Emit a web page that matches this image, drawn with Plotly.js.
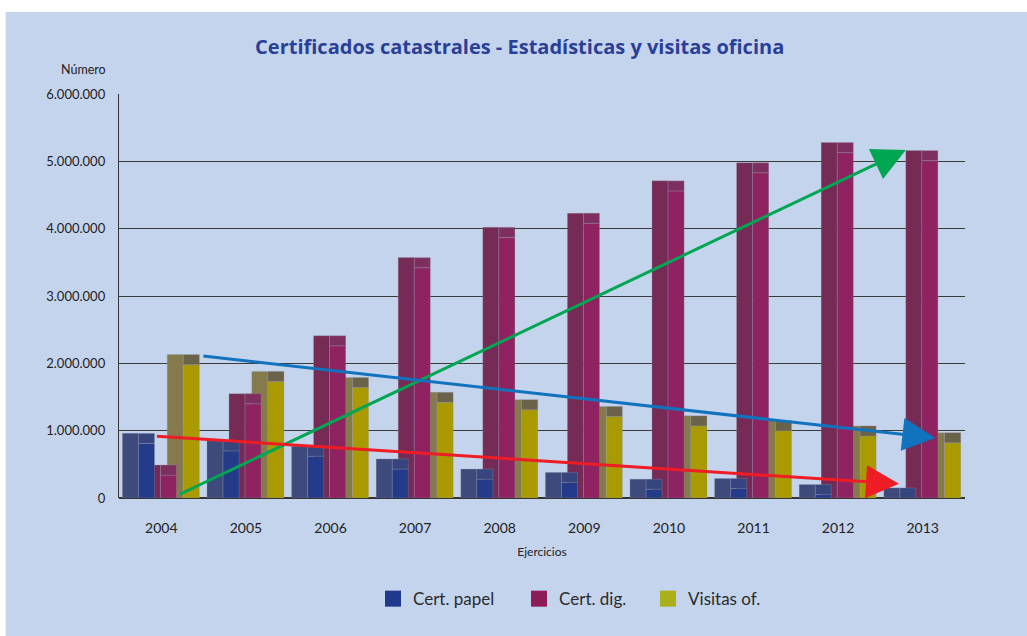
<!DOCTYPE html>
<html>
<head>
<meta charset="utf-8">
<script src="https://cdn.plot.ly/plotly-3.0.1.min.js"></script>
<style>
  html, body { margin: 0; padding: 0; background: #ffffff; }
  #chart { width: 1027px; height: 636px; }
</style>
</head>
<body>
<div id="chart"></div>
<script>
// ---- data ----
const years = [2004, 2005, 2006, 2007, 2008, 2009, 2010, 2011, 2012, 2013];
const certPapel = [910000, 800000, 720000, 530000, 380000, 330000, 230000, 240000, 150000, 100000];
const certDig   = [440000, 1500000, 2360000, 3520000, 3970000, 4180000, 4660000, 4930000, 5230000, 5110000];
const visitasOf = [2080000, 1830000, 1740000, 1520000, 1410000, 1310000, 1170000, 1100000, 1020000, 920000];
const seriesNames = ['Cert. papel', 'Cert. dig.', 'Visitas of.'];
const yTickVals = [0, 1000000, 2000000, 3000000, 4000000, 5000000, 6000000];

// trend arrows: [tailYear, tailValue, headYear, headValue]
const arrowGreen = [2004.2, 45000, 2012.8, 5170000];
const arrowBlue  = [2004.48, 2110000, 2013.15, 890000];
const arrowRed   = [2003.93, 920000, 2012.72, 210000];

// ---- styling ----
const BG = '#c5d4ed';
const backUp = 50000;      // pseudo-3D: back edge above value
const frontDown = 100000;  // pseudo-3D: front edge below value
const faceW = 0.19;
const styles = [
  { start: -0.46, side: '#3d4a7b', front: '#243b8a', top: '#36457e', icon: '#1f3a8c', legend: 'legend',  lx: 0.3632 },
  { start: -0.20, side: '#752b55', front: '#8f2260', top: '#7d3060', icon: '#8d1b57', legend: 'legend2', lx: 0.5054 },
  { start:  0.07, side: '#857a4c', front: '#a89a00', top: '#6a6349', icon: '#a9b01c', legend: 'legend3', lx: 0.6310 }
];
const values = [certPapel, certDig, visitasOf];

function seriesTraces(i) {
  const s = styles[i], v = values[i];
  const edge = { color: 'rgba(150,150,170,0.6)', width: 0.5 };
  const frontTop = v.map(d => Math.max(d - frontDown, 0));
  return [
    { type: 'bar', x: years, y: v.map(d => d + backUp), offset: s.start, width: faceW,
      marker: { color: s.side, line: edge }, showlegend: false, hoverinfo: 'skip', name: seriesNames[i] },
    { type: 'bar', x: years, y: frontTop, offset: s.start + faceW, width: faceW,
      marker: { color: s.front, line: edge }, showlegend: false, name: seriesNames[i] },
    { type: 'bar', x: years, y: v.map((d, k) => d + backUp - frontTop[k]), base: frontTop,
      offset: s.start + faceW, width: faceW,
      marker: { color: s.top, line: edge }, showlegend: false, hoverinfo: 'skip', name: seriesNames[i] }
  ];
}

function legendTrace(i) {
  const s = styles[i];
  return { type: 'scatter', mode: 'markers', x: [null], y: [null], name: seriesNames[i],
           marker: { symbol: 'square', size: 18, color: s.icon }, showlegend: true, legend: s.legend };
}

// draw order: yellow at back, then pink, blue in front
const data = [].concat(seriesTraces(2), seriesTraces(1), seriesTraces(0),
                       [legendTrace(0), legendTrace(1), legendTrace(2)]);

function arrow(a, color) {
  return { x: a[2], y: a[3], ax: a[0], ay: a[1], xref: 'x', yref: 'y', axref: 'x', ayref: 'y',
           text: '', showarrow: true, arrowhead: 2, arrowsize: 2.2, arrowwidth: 3, arrowcolor: color,
           standoff: 0, startstandoff: 0 };
}

function legendBox(s) {
  return { orientation: 'h', xref: 'container', yref: 'container', x: s.lx, xanchor: 'left',
           y: 0.058, yanchor: 'middle', font: { size: 17, color: '#2b2b2b' },
           bgcolor: 'rgba(0,0,0,0)', itemwidth: 30 };
}

const layout = {
  width: 1027, height: 636,
  paper_bgcolor: '#ffffff',
  plot_bgcolor: 'rgba(0,0,0,0)',
  margin: { l: 119, r: 62, t: 94, b: 138, pad: 0 },
  separators: ',.',
  font: { family: 'Lato, "Open Sans", sans-serif', color: '#222222', size: 13 },
  title: {
    text: 'Certificados catastrales - Estadísticas y visitas oficina',
    font: { family: '"Open Sans", Lato, sans-serif', size: 20, color: '#2a3f96', weight: 'bold' },
    x: 0.506, xanchor: 'center', y: 0.926, yanchor: 'middle', xref: 'container', yref: 'container'
  },
  barmode: 'overlay',
  xaxis: {
    type: 'linear', range: [2003.5, 2013.5], tickvals: years, ticktext: years.map(String),
    showgrid: false, zeroline: false, showline: false, ticks: '', ticklen: 0,
    ticklabelstandoff: 20,
    tickfont: { size: 14, color: '#222' }, automargin: false,
    title: { text: 'Ejercicios', font: { size: 12, color: '#222' }, standoff: 12 }
  },
  yaxis: {
    range: [0, 6000000], tickvals: yTickVals, tickformat: ',d',
    showgrid: true, gridcolor: '#3a3a3a', gridwidth: 1,
    zeroline: true, zerolinecolor: '#333', zerolinewidth: 1.2,
    showline: true, linecolor: '#333', linewidth: 1.2,
    ticks: '', ticklabelstandoff: 10, tickfont: { size: 13, color: '#222' }, automargin: false
  },
  legend: legendBox(styles[0]),
  legend2: legendBox(styles[1]),
  legend3: legendBox(styles[2]),
  shapes: [
    { type: 'rect', xref: 'paper', yref: 'paper', x0: -0.134, x1: 1.08, y0: -0.35, y1: 1.203,
      fillcolor: BG, line: { width: 0 }, layer: 'below' }
  ],
  annotations: [
    { text: 'Número', xref: 'paper', yref: 'paper', x: -0.013, y: 1.06, xanchor: 'right', yanchor: 'middle',
      showarrow: false, font: { size: 12.5, color: '#222' } },
    arrow(arrowGreen, '#00a651'),
    arrow(arrowBlue, '#1172bd'),
    arrow(arrowRed, '#ee1c25')
  ]
};

Plotly.newPlot('chart', data, layout, { displayModeBar: false, staticPlot: true });
</script>
</body>
</html>
